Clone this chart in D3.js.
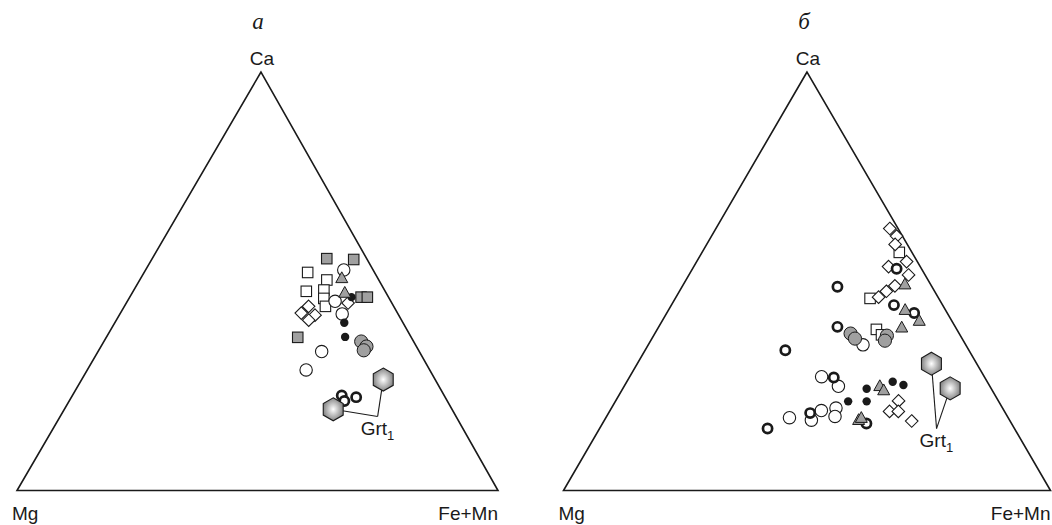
<!DOCTYPE html>
<html><head><meta charset="utf-8">
<script src="https://cdn.jsdelivr.net/npm/d3@7"></script>
<style>body{margin:0;background:#fff}svg{display:block}</style>
</head><body>
<svg id="c" width="1052" height="525"></svg>
<script>
// Values are [Ca, Fe+Mn] in %, Mg = 100 - Ca - (Fe+Mn)
const panelTitles = ["a", "б"];
const vertexLabels = ["Ca", "Mg", "Fe+Mn"];
const grtLabel = "Grt";

// panel a
const aGraySquares = [[55.4,36.3],[55.2,42.0],[46.2,48.1],[46.2,49.4],[36.6,39.8]];
const aOpenSquares = [[52.1,34.0],[47.6,36.0],[50.3,38.9],[47.9,39.5],[45.9,40.5],[44.0,41.8]];
const aDiamonds = [[42.4,37.6],[44.0,38.3],[41.9,40.7],[40.7,40.0],[44.8,46.1]];
const aOpenCircles = [[52.7,41.2],[45.2,43.2],[42.2,46.2],[33.2,46.5],[28.8,45.5]];
const aGrayCircles = [[35.6,53.5],[34.4,55.2],[33.5,55.1]];
const aBlackDots = [[46.2,46.1],[40.1,47.7],[36.7,49.6]];
const aRings = [[22.7,56.0],[21.4,57.2],[22.3,59.2]];
const aTriangles = [[50.7,41.8],[47.2,44.2]];
const aGrt = [[26.5,62.7],[19.4,55.9]];
const aGrtCorner = [17.7,66.0];

// panel б
const bGraySquares = [];
const bOpenSquares = [[56.9,40.5],[45.9,40.0],[38.5,45.0],[37.2,46.7]];
const bDiamonds = [[62.6,35.7],[60.8,38.0],[58.8,38.7],[54.7,43.1],[53.5,40.0],[51.5,45.1],[48.9,43.6],[47.6,42.5],[46.2,41.6],
                   [21.4,58.1],[18.9,57.5],[18.9,59.3],[16.6,63.2]];
const bOpenCircles = [[34.8,44.1],[27.2,39.4],[24.9,44.0],[17.4,37.7],[16.8,42.5],[19.1,43.4],[19.7,46.1],[17.7,46.9]];
const bGrayCircles = [[37.5,40.2],[36.3,41.7],[37.0,47.9],[35.8,48.1]];
const bBlackDots = [[24.3,50.1],[26.0,54.6],[25.2,57.2],[21.3,47.8],[21.3,51.6]];
const bRings = [[53.0,41.9],[44.3,45.7],[42.4,50.8],[48.7,31.9],[39.1,36.7],[33.5,28.8],[27.0,42.0],[18.5,41.4],[14.8,34.5],[16.0,54.2]];
const bTriangles = [[49.2,45.5],[43.1,48.6],[40.5,52.8],[38.9,50.0],[24.9,52.5],[23.9,53.8],[16.8,52.2],[17.3,52.5]];
const bGrt = [[30.3,60.4],[24.4,67.2]];
const bGrtCorner = [14.8,69.2];

const panels = [
  {title: panelTitles[0], xL: 17, xR: 498, xA: 261, yA: 72, yB: 490.5,
   graySq: aGraySquares, openSq: aOpenSquares, dia: aDiamonds, oc: aOpenCircles, gc: aGrayCircles,
   bd: aBlackDots, ring: aRings, tri: aTriangles, grt: aGrt, corner: aGrtCorner},
  {title: panelTitles[1], xL: 563.5, xR: 1050.5, xA: 807, yA: 72, yB: 490.5,
   graySq: bGraySquares, openSq: bOpenSquares, dia: bDiamonds, oc: bOpenCircles, gc: bGrayCircles,
   bd: bBlackDots, ring: bRings, tri: bTriangles, grt: bGrt, corner: bGrtCorner}
];

const svg = d3.select("#c");
const defs = svg.append("defs");
const grad = defs.append("radialGradient").attr("id","hexg").attr("cx","50%").attr("cy","50%").attr("r","55%");
grad.append("stop").attr("offset","0%").attr("stop-color","#ffffff");
grad.append("stop").attr("offset","100%").attr("stop-color","#7a7a7a");

const GRAY = "#a0a0a0";
const INK = "#1a1a1a";
const sansFont = "'Liberation Sans', Arial, Helvetica, sans-serif";

panels.forEach(p => {
  const yS = d3.scaleLinear().domain([0,100]).range([p.yB, p.yA]);
  const feS = d3.scaleLinear().domain([0,100]).range([p.xL, p.xR]);
  const shiftS = d3.scaleLinear().domain([0,100]).range([0, p.xA - p.xL]);
  const px = d => feS(d[1]) + shiftS(d[0]);
  const py = d => yS(d[0]);
  const g = svg.append("g");

  // triangle frame
  const verts = [[100,0],[0,0],[0,100]]; // Ca, Mg, Fe+Mn corners as [Ca, Fe]
  g.append("path")
    .attr("d", d3.line().x(px).y(py)(verts) + "Z")
    .attr("fill","none").attr("stroke",INK).attr("stroke-width",1.6).attr("stroke-linejoin","miter");

  // labels
  g.append("text").attr("x", px(verts[0]) + 1).attr("y", py(verts[0]) - 7)
    .attr("text-anchor","middle").attr("font-family",sansFont).attr("font-size",19).attr("fill",INK).text(vertexLabels[0]);
  g.append("text").attr("x", px(verts[1]) - 5).attr("y", 520)
    .attr("text-anchor","start").attr("font-family",sansFont).attr("font-size",19).attr("fill",INK).text(vertexLabels[1]);
  g.append("text").attr("x", px(verts[2])).attr("y", 520)
    .attr("text-anchor","end").attr("font-family",sansFont).attr("font-size",19).attr("fill",INK).text(vertexLabels[2]);
  g.append("text").attr("x", px(verts[0]) - 3).attr("y", 29)
    .attr("text-anchor","middle").attr("font-family","'Liberation Serif', 'Times New Roman', serif")
    .attr("font-style","italic").attr("font-size",23).attr("fill",INK).text(p.title);

  // markers
  const sq = 10.5;
  g.selectAll(null).data(p.graySq).join("rect")
    .attr("x", d => px(d)-sq/2).attr("y", d => py(d)-sq/2).attr("width",sq).attr("height",sq)
    .attr("fill",GRAY).attr("stroke",INK).attr("stroke-width",1.1);
  g.selectAll(null).data(p.openSq).join("rect")
    .attr("x", d => px(d)-sq/2).attr("y", d => py(d)-sq/2).attr("width",sq).attr("height",sq)
    .attr("fill","#fff").attr("stroke",INK).attr("stroke-width",1.1);
  g.selectAll(null).data(p.dia).join("path")
    .attr("d", d => `M${px(d)},${py(d)-6.3}L${px(d)+6.3},${py(d)}L${px(d)},${py(d)+6.3}L${px(d)-6.3},${py(d)}Z`)
    .attr("fill","#fff").attr("stroke",INK).attr("stroke-width",1.1);
  g.selectAll(null).data(p.oc).join("circle")
    .attr("cx",px).attr("cy",py).attr("r",6.2)
    .attr("fill","#fff").attr("stroke",INK).attr("stroke-width",1.1);
  g.selectAll(null).data(p.gc).join("circle")
    .attr("cx",px).attr("cy",py).attr("r",6.6)
    .attr("fill",GRAY).attr("stroke",INK).attr("stroke-width",1);
  g.selectAll(null).data(p.bd).join("circle")
    .attr("cx",px).attr("cy",py).attr("r",4.2)
    .attr("fill",INK);
  g.selectAll(null).data(p.ring).join("circle")
    .attr("cx",px).attr("cy",py).attr("r",4.6)
    .attr("fill","#fff").attr("stroke",INK).attr("stroke-width",2.7);
  g.selectAll(null).data(p.tri).join("path")
    .attr("d", d => `M${px(d)},${py(d)-6.5}L${px(d)+6},${py(d)+4.3}L${px(d)-6},${py(d)+4.3}Z`)
    .attr("fill",GRAY).attr("stroke",INK).attr("stroke-width",1);

  // Grt1 leaders and hexagons
  const cx = px(p.corner), cy = py(p.corner);
  g.selectAll(null).data(p.grt).join("line")
    .attr("x1", d => px(d)).attr("y1", d => py(d)).attr("x2", cx).attr("y2", cy)
    .attr("stroke",INK).attr("stroke-width",1.1);
  const R = 11.5;
  const hexPts = d3.range(6).map(i => { const a = Math.PI/3*i - Math.PI/2; return [R*Math.cos(a), R*Math.sin(a)]; });
  g.selectAll(null).data(p.grt).join("path")
    .attr("d", d => d3.line()(hexPts.map(h => [px(d)+h[0], py(d)+h[1]])) + "Z")
    .attr("fill","url(#hexg)").attr("stroke",INK).attr("stroke-width",1.1);
  const t = g.append("text").attr("x", cx - 17).attr("y", cy + 18.5)
    .attr("font-family",sansFont).attr("font-size",19).attr("fill",INK);
  t.append("tspan").text(grtLabel);
  t.append("tspan").attr("dy",5).attr("font-size",13).text("1");
});
</script>
</body></html>
